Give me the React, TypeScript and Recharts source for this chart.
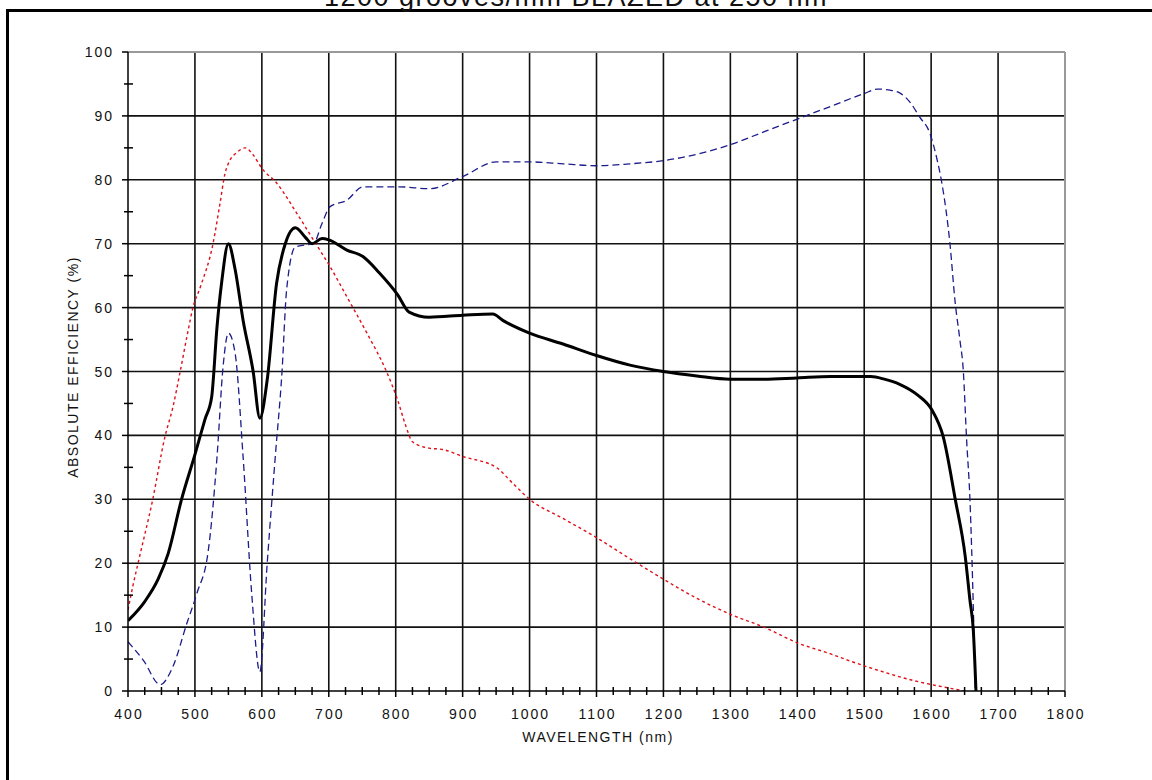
import React from 'react';
import { LineChart, Line, XAxis, YAxis, ReferenceLine } from 'recharts';

// absolute efficiency
const blackNm = [400, 425, 445, 460, 480, 500, 515, 525, 533, 540, 550, 560, 572, 587, 597, 608, 622, 635, 650, 665, 675, 690, 700, 727, 751, 775, 803, 820, 850, 900, 945, 960, 1000, 1050, 1100, 1150, 1200, 1250, 1300, 1350, 1400, 1450, 1510, 1530, 1553, 1580, 1601, 1618, 1636, 1651, 1658, 1663, 1667];
const blackEff = [11, 14, 17.5, 21.5, 30, 37, 42.5, 46, 57, 64, 70, 66, 58, 50, 42.7, 48.7, 63.8, 70, 72.5, 71, 70, 70.8, 70.6, 69, 68, 65.5, 62, 59.3, 58.5, 58.8, 59, 58, 56, 54.3, 52.5, 51, 50, 49.3, 48.8, 48.8, 49, 49.2, 49.2, 48.8, 48, 46.3, 44, 39.8, 30, 21, 14.2, 9.5, 0];

const redNm = [400, 407, 415, 437, 455, 467, 478, 490, 497, 508, 527, 537, 545, 552, 563, 575, 587, 600, 622, 652, 677, 702, 727, 757, 787, 803, 815, 825, 850, 870, 900, 950, 975, 1000, 1050, 1100, 1150, 1200, 1250, 1300, 1350, 1401, 1450, 1476, 1525, 1575, 1601, 1650];
const redEff = [12.7, 16.3, 20, 30, 39.7, 44.4, 50, 56.5, 60, 63.2, 70, 76, 81, 83, 84.3, 85, 83.9, 81.8, 79.5, 74.8, 70.6, 66.4, 61.7, 56, 49.8, 45.5, 41.5, 39, 38, 37.8, 36.7, 35, 32.5, 30, 27, 24, 20.7, 17.5, 14.5, 12, 10, 7.5, 5.8, 4.8, 3.1, 1.6, 1, 0];

const blueNm = [400, 423, 448, 467, 488, 503, 520, 533, 542, 550, 560, 572, 585, 597, 608, 620, 630, 637, 650, 665, 677, 690, 702, 727, 751, 806, 850, 900, 950, 1000, 1050, 1100, 1150, 1200, 1250, 1300, 1350, 1400, 1450, 1500, 1520, 1540, 1553, 1568, 1583, 1598, 1609, 1616, 1628, 1636, 1643, 1648, 1653, 1658, 1663, 1666];
const blueEff = [7.7, 4.8, 1, 3.8, 10.6, 15.3, 22, 36.6, 50.7, 56, 52.9, 36.6, 15, 3, 20, 36.6, 49.8, 62.8, 69.5, 69.8, 70, 73.2, 75.8, 76.8, 78.9, 78.9, 78.6, 80.5, 82.8, 82.8, 82.5, 82.2, 82.5, 83, 84, 85.5, 87.5, 89.5, 91.5, 93.5, 94.2, 94, 93.6, 92.2, 89.8, 87.3, 83.1, 79.5, 70.1, 60.7, 54.9, 50.2, 39.3, 29.9, 13.1, 0];

const xMajor = [400, 500, 600, 700, 800, 900, 1000, 1100, 1200, 1300, 1400, 1500, 1600, 1700, 1800];
const yMajor = [0, 10, 20, 30, 40, 50, 60, 70, 80, 90, 100];

const xTicks = xMajor.flatMap((v) => (v < 1800 ? [v, v + 25, v + 50, v + 75] : [v]));
const yTicks = yMajor.flatMap((v) => (v < 100 ? [v, v + 5] : [v]));

const toPoints = (nm: number[], eff: number[]) => nm.map((x, i) => ({ nm: x, eff: eff[i] }));
const blackData = toPoints(blackNm, blackEff);
const redData = toPoints(redNm, redEff);
const blueData = toPoints(blueNm, blueEff);

const FONT = '"Liberation Sans", Arial, sans-serif';

const XTick = (props: any) => {
  const { x, y, payload } = props;
  const v = payload.value;
  if (v % 100 === 0) {
    return (
      <g>
        <line x1={x} x2={x} y1={y} y2={y + 6} stroke="#000" strokeWidth={1.5} />
        <text x={x + 1} y={y + 28} textAnchor="middle" fontSize={14} letterSpacing={2} fill="#111" fontFamily={FONT}>
          {v}
        </text>
      </g>
    );
  }
  return <line x1={x} x2={x} y1={y - 4} y2={y + 4} stroke="#000" strokeWidth={1.5} />;
};

const YTick = (props: any) => {
  const { x, y, payload } = props;
  const v = payload.value;
  if (v % 10 === 0) {
    return (
      <g>
        <line x1={x - 6} x2={x} y1={y} y2={y} stroke="#000" strokeWidth={1.5} />
        <text x={x - 14} y={y + 5} textAnchor="end" fontSize={14} letterSpacing={2} fill="#111" fontFamily={FONT}>
          {v}
        </text>
      </g>
    );
  }
  return <line x1={x - 4} x2={x + 5} y1={y} y2={y} stroke="#000" strokeWidth={1.5} />;
};

export default function App() {
  return (
    <div style={{ position: 'absolute', left: 0, top: 0, width: 1152, height: 780, overflow: 'hidden', background: '#fff' }}>
      {/* outer frame, only left and top edges are on screen */}
      <div style={{ position: 'absolute', left: 6, top: 9, width: 1300, height: 900, borderLeft: '3px solid #000', borderTop: '3px solid #000' }} />
      <svg width={1152} height={780} style={{ position: 'absolute', left: 0, top: 0 }}>
        <text x={576} y={6} textAnchor="middle" fontSize={27} letterSpacing={1.5} fill="#111" fontFamily={FONT}>
          1200 grooves/mm BLAZED at 250 nm
        </text>
        <text x={598} y={742} textAnchor="middle" fontSize={14} letterSpacing={1.5} fill="#111" fontFamily={FONT}>
          WAVELENGTH (nm)
        </text>
        <text x={78} y={367} transform="rotate(-90 78 367)" textAnchor="middle" fontSize={14} letterSpacing={1.5} fill="#111" fontFamily={FONT}>
          ABSOLUTE EFFICIENCY (%)
        </text>
      </svg>
      <div style={{ position: 'absolute', left: 0, top: 0 }}>
        <LineChart width={1152} height={780} margin={{ top: 52, right: 87, bottom: 49, left: 68 }}>
          <XAxis
            dataKey="nm"
            type="number"
            domain={[400, 1800]}
            ticks={xTicks}
            interval={0}
            tickSize={0}
            tickMargin={0}
            height={40}
            tick={<XTick />}
            tickLine={false}
            axisLine={{ stroke: '#000', strokeWidth: 1.5 }}
            allowDataOverflow
          />
          <YAxis
            type="number"
            domain={[0, 100]}
            ticks={yTicks}
            interval={0}
            tickSize={0}
            tickMargin={0}
            width={60}
            tick={<YTick />}
            tickLine={false}
            axisLine={{ stroke: '#000', strokeWidth: 1.5 }}
            allowDataOverflow
          />
          {xMajor.slice(1, -1).map((v) => (
            <ReferenceLine key={'gx' + v} x={v} stroke="#111" strokeWidth={1.6} />
          ))}
          {yMajor.slice(1, -1).map((v) => (
            <ReferenceLine key={'gy' + v} y={v} stroke="#111" strokeWidth={1.6} />
          ))}
          <ReferenceLine x={1800} stroke="#999" strokeWidth={2} />
          <ReferenceLine y={100} stroke="#999" strokeWidth={2} />
          <Line data={redData} dataKey="eff" type="monotone" stroke="#e0101a" strokeWidth={1.4} strokeDasharray="3 3" dot={false} isAnimationActive={false} />
          <Line data={blueData} dataKey="eff" type="monotone" stroke="#1c1c8c" strokeWidth={1.3} strokeDasharray="7 4" dot={false} isAnimationActive={false} />
          <Line data={blackData} dataKey="eff" type="monotone" stroke="#000" strokeWidth={3} dot={false} isAnimationActive={false} />
        </LineChart>
      </div>
    </div>
  );
}
